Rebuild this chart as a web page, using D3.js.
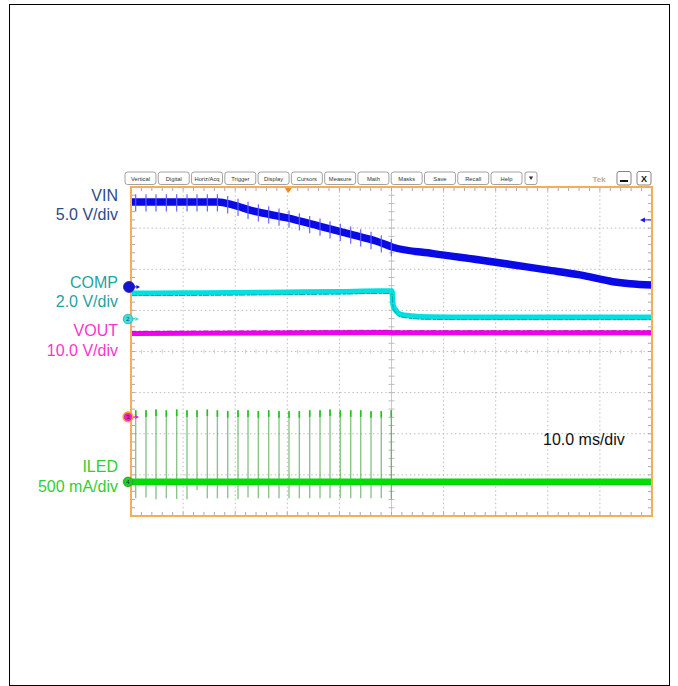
<!DOCTYPE html>
<html>
<head>
<meta charset="utf-8">
<script src="https://cdn.jsdelivr.net/npm/d3@7"></script>
<style>
  html, body { margin: 0; padding: 0; background: #fff; }
  svg { display: block; font-family: "Liberation Sans", Arial, sans-serif; }
</style>
</head>
<body>
<svg id="chart" width="678" height="686"></svg>
<script>
// ---------------- DATA ----------------
const menuLabels = ["Vertical","Digital","Horiz/Acq","Trigger","Display","Cursors","Measure","Math","Masks","Save","Recall","Help"];

// VIN (V), 5 V/div
const vinTime  = [0, 16.7, 19.5, 23.4, 30, 36.5, 42.6, 47, 50.1, 58, 67, 79.8, 86.2, 92.5, 95.8, 100];
const vinVolts = [10.33, 10.33, 9.97, 9.24, 8.39, 7.33, 6.32, 5.59, 4.86, 4.05, 3.28, 2.07, 1.46, 0.64, 0.40, 0.24];

// COMP (V), 2 V/div
const compTime  = [0, 10, 20, 30, 40, 48, 50.1, 50.3, 50.9, 51.6, 53.6, 57.4, 65, 100];
const compVolts = [1.25, 1.26, 1.28, 1.30, 1.33, 1.36, 1.36, 0.68, 0.39, 0.24, 0.15, 0.10, 0.08, 0.08];

// VOUT (V), 10 V/div
const voutTime  = [0, 25, 49.9, 50.2, 100];
const voutVolts = [20.3, 20.4, 20.55, 20.45, 20.45];

// ILED (A), 500 mA/div
const iledTime  = [0, 100];
const iledAmps  = [0, 0];
const pulseTimes = [0.90, 2.88, 4.80, 6.78, 8.77, 10.75, 12.67, 14.65, 16.58, 18.56, 20.54, 22.46, 24.44,
                    26.43, 28.41, 30.33, 32.31, 34.30, 36.28, 38.20, 40.17, 42.17, 44.09, 46.07, 48.04, 49.96];
const pulsePeaks = [0.87, 0.87, 0.88, 0.87, 0.88, 0.87, 0.87, 0.88, 0.87, 0.86, 0.87, 0.87, 0.86,
                    0.87, 0.86, 0.86, 0.86, 0.87, 0.87, 0.88, 0.87, 0.87, 0.87, 0.86, 0.86, 0.87];
const pulseTroughs = [-0.20, -0.19, -0.21, -0.20, -0.21, -0.21, -0.10, -0.20, -0.20, -0.20, -0.21, -0.19, -0.20,
                      -0.20, -0.20, -0.20, -0.20, -0.20, -0.20, -0.20, -0.20, -0.20, -0.20, -0.20, -0.20, -0.21];

const channelNames  = ["VIN", "COMP", "VOUT", "ILED"];
const channelScales = ["5.0 V/div", "2.0 V/div", "10.0 V/div", "500 mA/div"];
const channelVPerDiv = [5, 2, 10, 0.5];
const channelOffsetDiv = [1.57, 0.79, -1.59, -3.17];
const timeLabel = "10.0 ms/div";
const triggerTime = 30.2;
const triggerLevel = 8.15;

// ---------------- LAYOUT ----------------
const svg = d3.select("#chart");
const L = 131, R = 652, T = 187, B = 516;
const x = d3.scaleLinear().domain([0, 100]).range([L, R]);
const yDiv = d3.scaleLinear().domain([-4, 4]).range([B, T]);
const chY = channelVPerDiv.map((vpd, i) =>
  d3.scaleLinear().domain([0, vpd]).range([yDiv(channelOffsetDiv[i]), yDiv(channelOffsetDiv[i] + 1)]));

const colTrace = ["#0a0ae6", "#00e0e0", "#ee00ee", "#00dd00"];
const colLabel = ["#2e4a8a", "#1fa3a3", "#ff33cc", "#33cc33"];

// outer border
svg.append("rect").attr("x", 9.5).attr("y", 4.5).attr("width", 660).attr("height", 681)
  .attr("fill", "none").attr("stroke", "#000").attr("stroke-width", 1);

// ---------------- MENU ----------------
const band = d3.scaleBand().domain(menuLabels).range([125, 522]).paddingInner(0.07);
const menu = svg.append("g");
menuLabels.forEach(lbl => {
  const g = menu.append("g");
  g.append("rect").attr("x", band(lbl)).attr("y", 172).attr("width", band.bandwidth()).attr("height", 12.5)
    .attr("rx", 2.5).attr("fill", "#fff").attr("stroke", "#8a8a8a").attr("stroke-width", 0.8);
  g.append("text").attr("x", band(lbl) + band.bandwidth() / 2).attr("y", 180.6)
    .attr("text-anchor", "middle").attr("font-size", 5.8).attr("fill", "#333").text(lbl);
});
menu.append("rect").attr("x", 525).attr("y", 172).attr("width", 12).attr("height", 12.5).attr("rx", 2)
  .attr("fill", "#fff").attr("stroke", "#8a8a8a").attr("stroke-width", 0.8);
menu.append("path").attr("d", "M528.8,176.5 L533.2,176.5 L531,180 Z").attr("fill", "#333");
menu.append("text").attr("x", 599).attr("y", 182).attr("text-anchor", "middle")
  .attr("font-size", 8).attr("fill", "#c9a58a").attr("font-weight", "bold").text("Tek");
menu.append("rect").attr("x", 617).attr("y", 171.5).attr("width", 14).attr("height", 13.5).attr("rx", 2)
  .attr("fill", "#fff").attr("stroke", "#777").attr("stroke-width", 0.9);
menu.append("line").attr("x1", 620).attr("x2", 628).attr("y1", 181).attr("y2", 181)
  .attr("stroke", "#111").attr("stroke-width", 2);
menu.append("rect").attr("x", 637).attr("y", 171.5).attr("width", 14).attr("height", 13.5).attr("rx", 2)
  .attr("fill", "#fff").attr("stroke", "#777").attr("stroke-width", 0.9);
menu.append("text").attr("x", 644).attr("y", 182).attr("text-anchor", "middle")
  .attr("font-size", 9).attr("font-weight", "bold").attr("fill", "#111").text("X");

// ---------------- GRID ----------------
const grid = svg.append("g");
d3.range(1, 10).filter(i => i !== 5).forEach(i => {
  grid.append("line").attr("x1", x(i * 10)).attr("x2", x(i * 10)).attr("y1", T).attr("y2", B)
    .attr("stroke", "#bdbdbd").attr("stroke-width", 1).attr("stroke-dasharray", "1.5,2.6");
});
d3.range(-3, 4).filter(j => j !== 0).forEach(j => {
  grid.append("line").attr("y1", yDiv(j)).attr("y2", yDiv(j)).attr("x1", L).attr("x2", R)
    .attr("stroke", "#bdbdbd").attr("stroke-width", 1).attr("stroke-dasharray", "1.5,2.6");
});
// center cross
grid.append("line").attr("x1", x(50)).attr("x2", x(50)).attr("y1", T).attr("y2", B)
  .attr("stroke", "#c9c9c9").attr("stroke-width", 1);
grid.append("line").attr("y1", yDiv(0)).attr("y2", yDiv(0)).attr("x1", L).attr("x2", R)
  .attr("stroke", "#c4c4c4").attr("stroke-width", 1).attr("stroke-dasharray", "1.5,2.6");
// minor ticks
const minorX = d3.range(1, 50).map(k => k * 2);
const minorY = d3.range(-19, 20).map(k => k / 5);
minorX.forEach(t => {
  const xx = x(t);
  grid.append("line").attr("x1", xx).attr("x2", xx).attr("y1", T).attr("y2", T + 4).attr("stroke", "#aaa");
  grid.append("line").attr("x1", xx).attr("x2", xx).attr("y1", B - 4).attr("y2", B).attr("stroke", "#aaa");
  grid.append("line").attr("x1", xx).attr("x2", xx).attr("y1", yDiv(0) - 2).attr("y2", yDiv(0) + 2).attr("stroke", "#d0d0d0");
});
minorY.forEach(d => {
  const yy = yDiv(d);
  grid.append("line").attr("x1", L).attr("x2", L + 4).attr("y1", yy).attr("y2", yy).attr("stroke", "#aaa");
  grid.append("line").attr("x1", R - 4).attr("x2", R).attr("y1", yy).attr("y2", yy).attr("stroke", "#aaa");
  grid.append("line").attr("x1", x(50) - 3).attr("x2", x(50) + 3).attr("y1", yy).attr("y2", yy).attr("stroke", "#bbb");
});

// ---------------- TRACES ----------------
const traces = svg.append("g");
function lineFor(times, vals, sc) {
  return d3.line().x((d, i) => x(times[i])).y(d => sc(d)).curve(d3.curveMonotoneX)(vals);
}
const interp = (times, vals) => t => {
  const i = d3.bisectRight(times, t) - 1;
  const k = Math.max(0, Math.min(i, times.length - 2));
  const f = (t - times[k]) / (times[k + 1] - times[k]);
  return vals[k] + f * (vals[k + 1] - vals[k]);
};

// VIN
traces.append("path").attr("d", lineFor(vinTime, vinVolts, chY[0]))
  .attr("fill", "none").attr("stroke", colTrace[0]).attr("stroke-width", 7.5);
const vinAt = interp(vinTime, vinVolts);
pulseTimes.forEach(t => {
  const v = vinAt(t);
  traces.append("line").attr("x1", x(t)).attr("x2", x(t))
    .attr("y1", chY[0](v + 0.95)).attr("y2", chY[0](v - 1.15))
    .attr("stroke", "#5a5aff").attr("stroke-width", 1.1);
});

// COMP
traces.append("path").attr("d", lineFor(compTime, compVolts, chY[1]))
  .attr("fill", "none").attr("stroke", colTrace[1]).attr("stroke-width", 5.5);
traces.append("path").attr("d", lineFor(compTime, compVolts, chY[1]))
  .attr("fill", "none").attr("stroke", "#138f8f").attr("stroke-width", 1).attr("stroke-opacity", 0.75)
  .attr("stroke-dasharray", "6,2,3,1").attr("transform", "translate(0,2.4)");

// VOUT
traces.append("path").attr("d", lineFor(voutTime, voutVolts, chY[2]))
  .attr("fill", "none").attr("stroke", colTrace[2]).attr("stroke-width", 5);
traces.append("path").attr("d", lineFor(voutTime, voutVolts, chY[2]))
  .attr("fill", "none").attr("stroke", "#9a1a9a").attr("stroke-width", 1).attr("stroke-opacity", 0.6)
  .attr("stroke-dasharray", "5,3,2,2").attr("transform", "translate(0,-2.2)");

// ILED pulses
pulseTimes.forEach((t, i) => {
  traces.append("line").attr("x1", x(t)).attr("x2", x(t))
    .attr("y1", chY[3](pulsePeaks[i])).attr("y2", chY[3](pulseTroughs[i]))
    .attr("stroke", "#3f9f3f").attr("stroke-opacity", 0.6).attr("stroke-width", 1.4);
  traces.append("line").attr("x1", x(t)).attr("x2", x(t))
    .attr("y1", chY[3](pulsePeaks[i])).attr("y2", chY[3](pulsePeaks[i] - 0.08))
    .attr("stroke", "#18c818").attr("stroke-width", 1.6);
});
traces.append("path").attr("d", lineFor(iledTime, iledAmps, chY[3]))
  .attr("fill", "none").attr("stroke", colTrace[3]).attr("stroke-width", 6.5);
traces.append("path").attr("d", lineFor(iledTime, iledAmps, chY[3]))
  .attr("fill", "none").attr("stroke", "#22b822").attr("stroke-width", 0.8).attr("stroke-opacity", 0.6)
  .attr("transform", "translate(0,3)");

// ---------------- FRAME ----------------
svg.append("rect").attr("x", L).attr("y", T).attr("width", R - L).attr("height", B - T)
  .attr("fill", "none").attr("stroke", "#f5ae58").attr("stroke-width", 2);

// ---------------- MARKERS ----------------
const mk = svg.append("g");
// trigger position
mk.append("path").attr("d", `M${x(triggerTime) - 3.5},${T + 1} L${x(triggerTime) + 3.5},${T + 1} L${x(triggerTime)},${T + 6} Z`)
  .attr("fill", "#f08a1c");
// trigger level arrow
const ty = chY[0](triggerLevel);
mk.append("line").attr("x1", R - 10).attr("x2", R - 1).attr("y1", ty).attr("y2", ty).attr("stroke", "#1a1ae0").attr("stroke-width", 1);
mk.append("path").attr("d", `M${R - 12},${ty} L${R - 7},${ty - 2.5} L${R - 7},${ty + 2.5} Z`).attr("fill", "#1a1ae0");

const mkFill = ["#1414c8", "#3fe0e0", "#e61fd0", "#22cc22"];
const mkStroke = ["#1414c8", "#23b0b0", "#ffa033", "#1aa51a"];
const mkText = ["", "2", "3", "4"];
const mkTextCol = ["#fff", "#136", "#333", "#135"];
channelOffsetDiv.forEach((o, i) => {
  const yy = yDiv(o);
  const cx = i === 0 ? 129 : 128;
  mk.append("line").attr("x1", cx + 4).attr("x2", cx + 9).attr("y1", yy).attr("y2", yy)
    .attr("stroke", mkStroke[i] === "#ffa033" ? "#e61fd0" : mkFill[i]).attr("stroke-width", 1);
  mk.append("path").attr("d", `M${cx + 11},${yy} L${cx + 7.5},${yy - 2} L${cx + 7.5},${yy + 2} Z`)
    .attr("fill", mkStroke[i] === "#ffa033" ? "#e61fd0" : mkFill[i]);
  mk.append("circle").attr("cx", cx).attr("cy", yy).attr("r", i === 0 ? 5.5 : 4.8)
    .attr("fill", mkFill[i]).attr("stroke", mkStroke[i]).attr("stroke-width", i === 2 ? 1.6 : 0.8);
  if (mkText[i]) mk.append("text").attr("x", cx).attr("y", yy + 2.2).attr("text-anchor", "middle")
    .attr("font-size", 6).attr("fill", mkTextCol[i]).text(mkText[i]);
});

// ---------------- LABELS ----------------
const labelY = [[201, 220], [288, 307], [336, 356], [472, 492]];
channelNames.forEach((n, i) => {
  svg.append("text").attr("x", 118).attr("y", labelY[i][0]).attr("text-anchor", "end")
    .attr("font-size", 16).attr("fill", colLabel[i]).text(n);
  svg.append("text").attr("x", 118).attr("y", labelY[i][1]).attr("text-anchor", "end")
    .attr("font-size", 16).attr("fill", colLabel[i]).text(channelScales[i]);
});
svg.append("text").attr("x", 543).attr("y", 445).attr("font-size", 16).attr("fill", "#111").text(timeLabel);
</script>
</body>
</html>
